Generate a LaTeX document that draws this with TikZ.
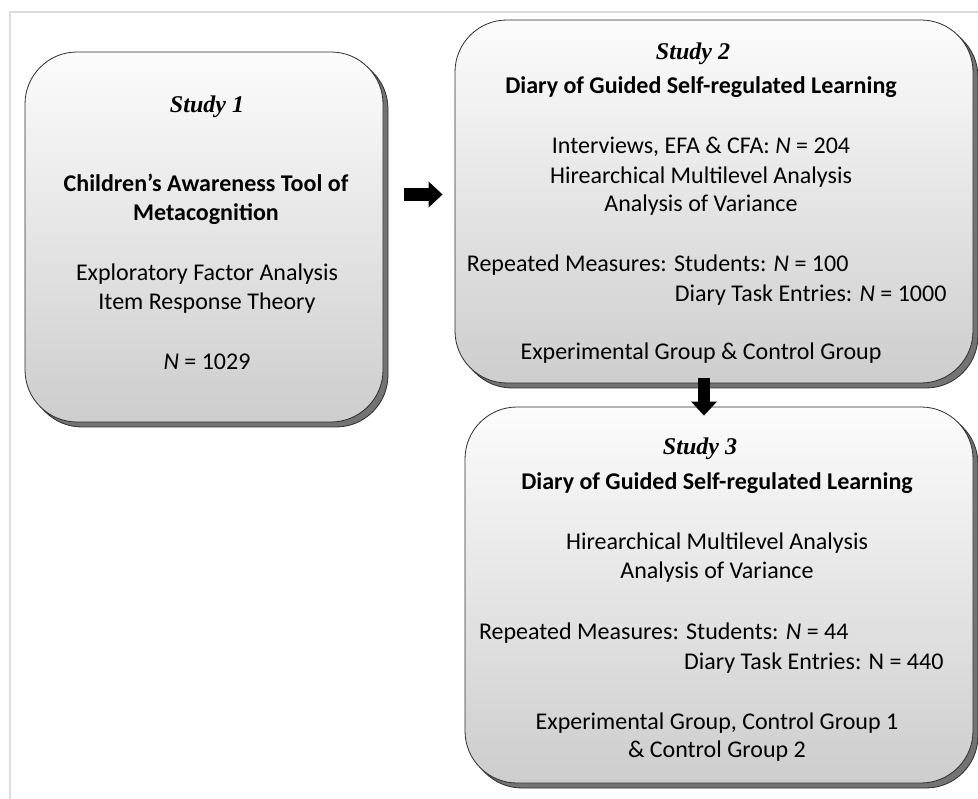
\documentclass[tikz,border=0pt]{standalone}
\usepackage{fontspec}
\setmainfont{Carlito}
\newfontfamily\studyfont{Liberation Serif}
\usepackage{tikz}
\usepackage{xcolor}
\usetikzlibrary{positioning}
\usetikzlibrary{arrows.meta}
\usetikzlibrary{shadows}
\definecolor{framecolor}{RGB}{220, 220, 220}
\definecolor{boxtopcolor}{RGB}{252, 252, 252}
\definecolor{boxbottomcolor}{RGB}{205, 205, 205}
\definecolor{bevelcolor}{RGB}{115, 115, 115}
\definecolor{edgecolor}{RGB}{45, 45, 45}
\newcommand{\bodysize}{\fontsize{24}{29}\selectfont}
\tikzstyle{study} = [
    rectangle,
    rounded corners=52pt,
    draw=edgecolor,
    line width=0.8pt,
    top color=boxtopcolor,
    bottom color=boxbottomcolor,
    general shadow={shadow xshift=5pt, shadow yshift=-5pt, fill=bevelcolor, draw=edgecolor},
    inner sep=0pt
]
\tikzstyle{studytitle} = [anchor=base, font=\bodysize\studyfont\bfseries\itshape]
\tikzstyle{boldline} = [anchor=base, font=\bodysize\bfseries]
\tikzstyle{plainline} = [anchor=base, font=\bodysize]
\tikzstyle{rightline} = [anchor=base east, font=\bodysize]
\tikzstyle{bigarrow} = [-{Triangle[length=14pt, width=25pt]}, line width=13pt, black]
\tikzstyle{frameline} = [line width=1.5pt, framecolor]

\begin{document}
\begin{tikzpicture}[x=1pt, y=-1pt]

	\useasboundingbox (0,0) rectangle (978,799);

	% Frame
	\draw[frameline] (10,799) -- (10,12) -- (978,12);

	%
	% Study 1

	% Box
	\node[study, minimum width=358pt, minimum height=370pt] (study1) at (204,237) {};

	% Text
	\node[studytitle] (s1-title) at (207,113) {Study 1};
	\node[boldline] (s1-tool1) at (206,192) {Children’s Awareness Tool of};
	\node[boldline] (s1-tool2) at (206,221) {Metacognition};
	\node[plainline] (s1-efa) at (207,281) {Exploratory Factor Analysis};
	\node[plainline] (s1-irt) at (207,310) {Item Response Theory};
	\node[plainline] (s1-n) at (207,370) {\textit{N} = 1029};

	%
	% Study 2

	% Box
	\node[study, minimum width=518pt, minimum height=363pt] (study2) at (714,201.5) {};

	% Text
	\node[studytitle] (s2-title) at (693,60) {Study 2};
	\node[boldline] (s2-diary) at (701,94) {Diary of Guided Self-regulated Learning};
	\node[plainline] (s2-cfa) at (701,154) {Interviews, EFA \& CFA: \textit{N} = 204};
	\node[plainline] (s2-hml) at (701,184) {Hirearchical Multilevel Analysis};
	\node[plainline] (s2-anova) at (701,212) {Analysis of Variance};
	\node[rightline] (s2-students) at (852,272) {Repeated Measures: Students: \textit{N} = 100};
	\node[rightline] (s2-entries) at (950,302) {Diary Task Entries: \textit{N} = 1000};
	\node[plainline] (s2-groups) at (701,360) {Experimental Group \& Control Group};

	%
	% Study 3

	% Box
	\node[study, minimum width=508pt, minimum height=376pt] (study3) at (719,595) {};

	% Text
	\node[studytitle] (s3-title) at (700,455) {Study 3};
	\node[boldline] (s3-diary) at (717,490) {Diary of Guided Self-regulated Learning};
	\node[plainline] (s3-hml) at (717,550) {Hirearchical Multilevel Analysis};
	\node[plainline] (s3-anova) at (717,579) {Analysis of Variance};
	\node[rightline] (s3-students) at (852,639) {Repeated Measures: Students: \textit{N} = 44};
	\node[rightline] (s3-entries) at (947,669) {Diary Task Entries: N = 440};
	\node[plainline] (s3-groups1) at (717,729) {Experimental Group, Control Group 1};
	\node[plainline] (s3-groups2) at (717,757) {\& Control Group 2};

	% Arrows
	\draw[bigarrow, shorten <=21pt, shorten >=12pt] ([yshift=7pt]study1.east |- study2.west) -- ([yshift=7pt]study2.west);
	\draw[bigarrow, line width=12pt, shorten <=-5pt, shorten >=-9pt] ([xshift=-10pt]study2.south) -- ([xshift=-10pt]study2.south |- study3.north);

\end{tikzpicture}
\end{document}
